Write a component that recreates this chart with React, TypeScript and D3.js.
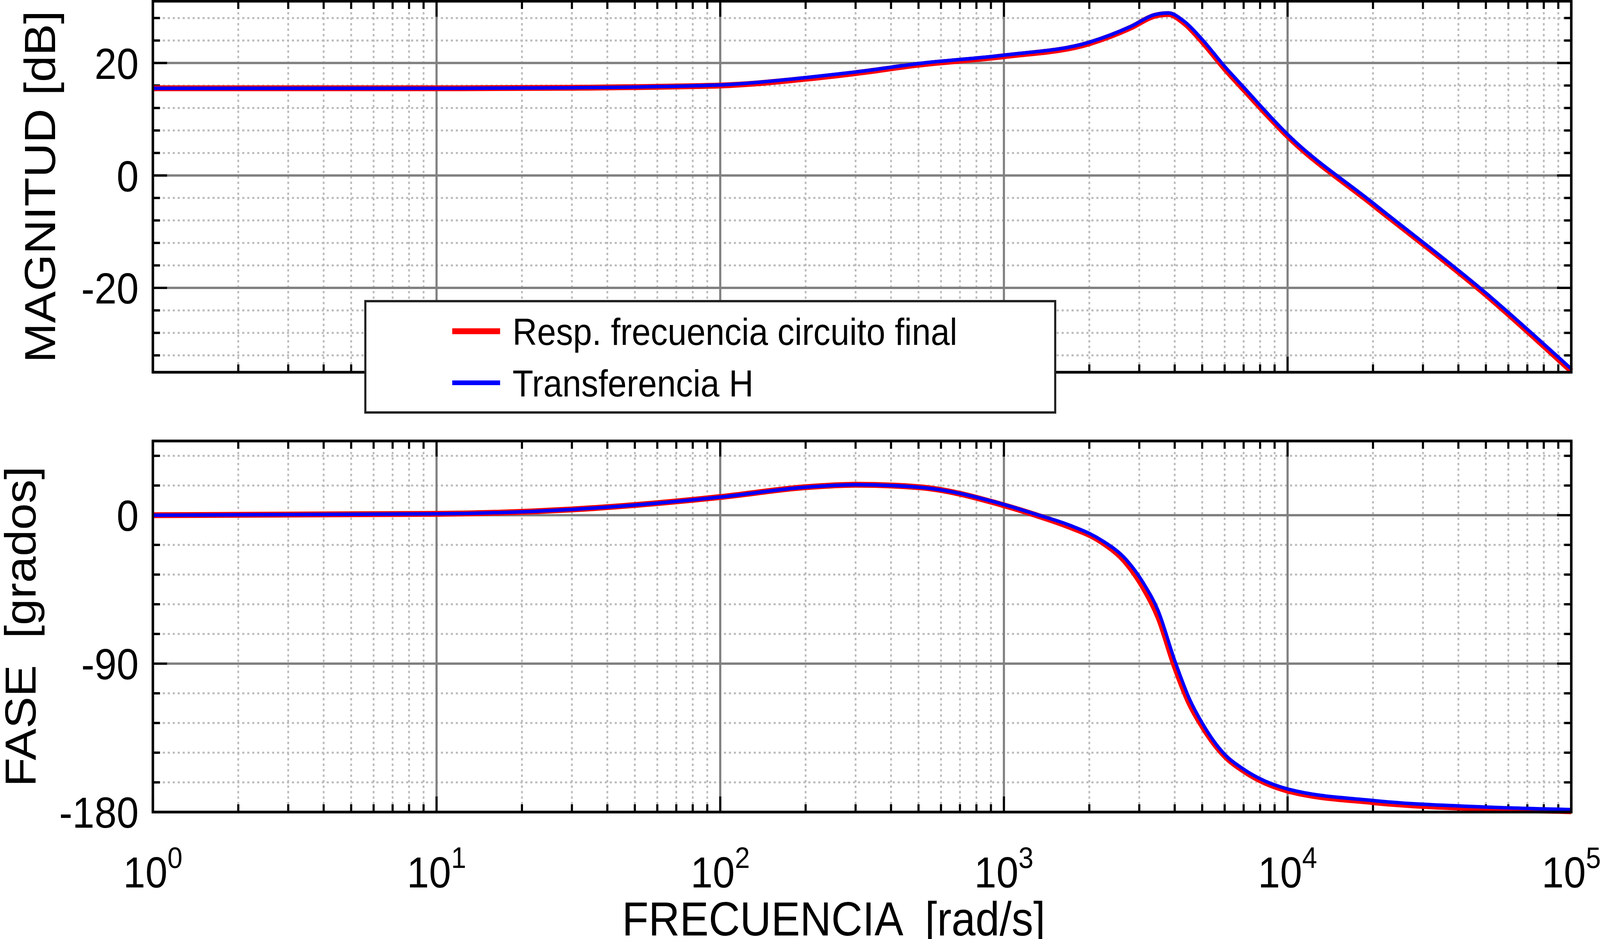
import * as d3 from "d3";

const freqMag = [1, 10, 30, 100, 200, 300, 500, 1000, 2000, 2800, 3400, 3800, 4300, 5000, 6000, 7000, 10000, 20000, 50000, 100000];
const magRed = [15.5, 15.5, 15.6, 16.0, 17.2, 18.2, 19.7, 21.2, 23.5, 26.3, 28.4, 28.7, 27.2, 23.8, 19.0, 15.3, 7.0, -5.2, -21.2, -34.8];
const magBlue = [15.5, 15.5, 15.6, 16.1, 17.4, 18.4, 19.9, 21.4, 23.7, 26.5, 28.6, 28.9, 27.5, 24.2, 19.4, 15.7, 7.3, -4.9, -20.9, -34.4];

const freqPh = [1, 10, 30, 100, 200, 300, 500, 1000, 1300, 1700, 2200, 2700, 3100, 3500, 4000, 4500, 5000, 6000, 7000, 10000, 20000, 50000, 100000];
const phRed = [0, 0.8, 3.5, 11, 17, 18.5, 17, 6, 0, -7, -16, -29, -44, -62, -92, -114, -128, -146, -155, -167, -174, -178, -179.5];
const phBlue = [0, 0.8, 3.5, 11, 17, 18.5, 17, 6.5, 0.5, -6, -15, -27, -41, -58, -88, -111, -126, -145, -154, -166, -173, -177, -178.5];

const magTicks = [-20, 0, 20];
const phTicks = [-180, -90, 0];
const decades = [0, 1, 2, 3, 4, 5];

const W = 4511;
const H = 2404;
const L = 431;
const R = 4430;
const FONT = "Liberation Sans, Arial, sans-serif";

const x = d3.scaleLog().domain([1, 1e5]).range([L, R]);
const minorX: number[] = [];
for (let d = 0; d < 5; d++) for (let k = 2; k <= 9; k++) minorX.push(k * 10 ** d);

type PanelProps = {
  top: number;
  bottom: number;
  domain: [number, number];
  majors: number[];
  minorStep: number;
  red: number[];
  blue: number[];
  freqs: number[];
  title: string;
  titleX: number;
};

function Panel({ top, bottom, domain, majors, minorStep, red, blue, freqs, title, titleX }: PanelProps) {
  const y = d3.scaleLinear().domain(domain).range([bottom, top]);
  const minorY = d3.range(Math.ceil(domain[0] / minorStep) * minorStep, domain[1], minorStep).filter((v) => !majors.includes(v));
  const line = d3
    .line<number>()
    .x((_, i) => x(freqs[i]))
    .y((d) => y(d))
    .curve(d3.curveMonotoneX);
  const majX = decades.map((d) => 10 ** d);
  return (
    <g>
      {minorY.map((v) => (
        <line key={"my" + v} x1={L} x2={R} y1={y(v)} y2={y(v)} stroke="#bbb" strokeWidth={5} strokeDasharray="6,8" />
      ))}
      {minorX.map((v) => (
        <line key={"mx" + v} x1={x(v)} x2={x(v)} y1={top} y2={bottom} stroke="#bbb" strokeWidth={5} strokeDasharray="6,8" />
      ))}
      {majors.map((v) => (
        <line key={"My" + v} x1={L} x2={R} y1={y(v)} y2={y(v)} stroke="#808080" strokeWidth={6} />
      ))}
      {majX.map((v) => (
        <line key={"Mx" + v} x1={x(v)} x2={x(v)} y1={top} y2={bottom} stroke="#808080" strokeWidth={6} />
      ))}
      {minorY.map((v) => (
        <g key={"ty" + v}>
          <line x1={L} x2={L + 20} y1={y(v)} y2={y(v)} stroke="#000" strokeWidth={6} />
          <line x1={R} x2={R - 20} y1={y(v)} y2={y(v)} stroke="#000" strokeWidth={6} />
        </g>
      ))}
      {majors.map((v) => (
        <g key={"tY" + v}>
          <line x1={L} x2={L + 40} y1={y(v)} y2={y(v)} stroke="#000" strokeWidth={6} />
          <line x1={R} x2={R - 40} y1={y(v)} y2={y(v)} stroke="#000" strokeWidth={6} />
          <text x={L - 40} y={y(v)} dy="0.36em" textAnchor="end" fontSize={112} fontFamily={FONT}>
            {v}
          </text>
        </g>
      ))}
      {minorX.map((v) => (
        <g key={"tx" + v}>
          <line x1={x(v)} x2={x(v)} y1={top} y2={top + 20} stroke="#000" strokeWidth={6} />
          <line x1={x(v)} x2={x(v)} y1={bottom} y2={bottom - 20} stroke="#000" strokeWidth={6} />
        </g>
      ))}
      {majX.map((v) => (
        <g key={"tX" + v}>
          <line x1={x(v)} x2={x(v)} y1={top} y2={top + 40} stroke="#000" strokeWidth={6} />
          <line x1={x(v)} x2={x(v)} y1={bottom} y2={bottom - 40} stroke="#000" strokeWidth={6} />
        </g>
      ))}
      <path d={line(red) ?? ""} fill="none" stroke="#ff0000" strokeWidth={15} />
      <path d={line(blue) ?? ""} fill="none" stroke="#0000ff" strokeWidth={9} />
      <rect x={L} y={top} width={R - L} height={bottom - top} fill="none" stroke="#000" strokeWidth={7} />
      <text
        transform={`translate(${titleX},${(top + bottom) / 2}) rotate(-90)`}
        textAnchor="middle"
        fontSize={122}
        fontFamily={FONT}
        xmlSpace="preserve"
      >
        {title}
      </text>
    </g>
  );
}

export default function App() {
  return (
    <div style={{ position: "fixed", left: 0, top: 0, width: "100vw", height: "100vh", overflow: "hidden" }}>
      <svg
        width="100%"
        height="100%"
        viewBox={`0 0 ${W} ${H}`}
        preserveAspectRatio="none"
        style={{ display: "block", background: "#fff" }}
      >
        <Panel top={3} bottom={953} domain={[-35, 31]} majors={magTicks} minorStep={4} red={magRed} blue={magBlue} freqs={freqMag} title="MAGNITUD [dB]" titleX={155} />
        <Panel top={1129} bottom={2079} domain={[-180, 45]} majors={phTicks} minorStep={18} red={phRed} blue={phBlue} freqs={freqPh} title="FASE  [grados]" titleX={100} />
        {decades.map((d) => (
          <text key={d} x={x(10 ** d)} y={2272} textAnchor="middle" fontSize={112} fontFamily={FONT}>
            10
            <tspan dy={-50} fontSize={76}>
              {d}
            </tspan>
          </text>
        ))}
        <text x={(L + R) / 2 - 80} y={2395} textAnchor="middle" fontSize={122} fontFamily={FONT} xmlSpace="preserve">
          FRECUENCIA  [rad/s]
        </text>
        <g>
          <rect x={1030} y={771} width={1945} height={285} fill="#fff" stroke="#222" strokeWidth={6} />
          <line x1={1275} x2={1410} y1={848} y2={848} stroke="#ff0000" strokeWidth={15} />
          <line x1={1275} x2={1410} y1={980} y2={980} stroke="#0000ff" strokeWidth={12} />
          <text x={1445} y={848} dy="0.36em" fontSize={96} fontFamily={FONT}>
            Resp. frecuencia circuito final
          </text>
          <text x={1445} y={980} dy="0.36em" fontSize={96} fontFamily={FONT}>
            Transferencia H
          </text>
        </g>
      </svg>
    </div>
  );
}
